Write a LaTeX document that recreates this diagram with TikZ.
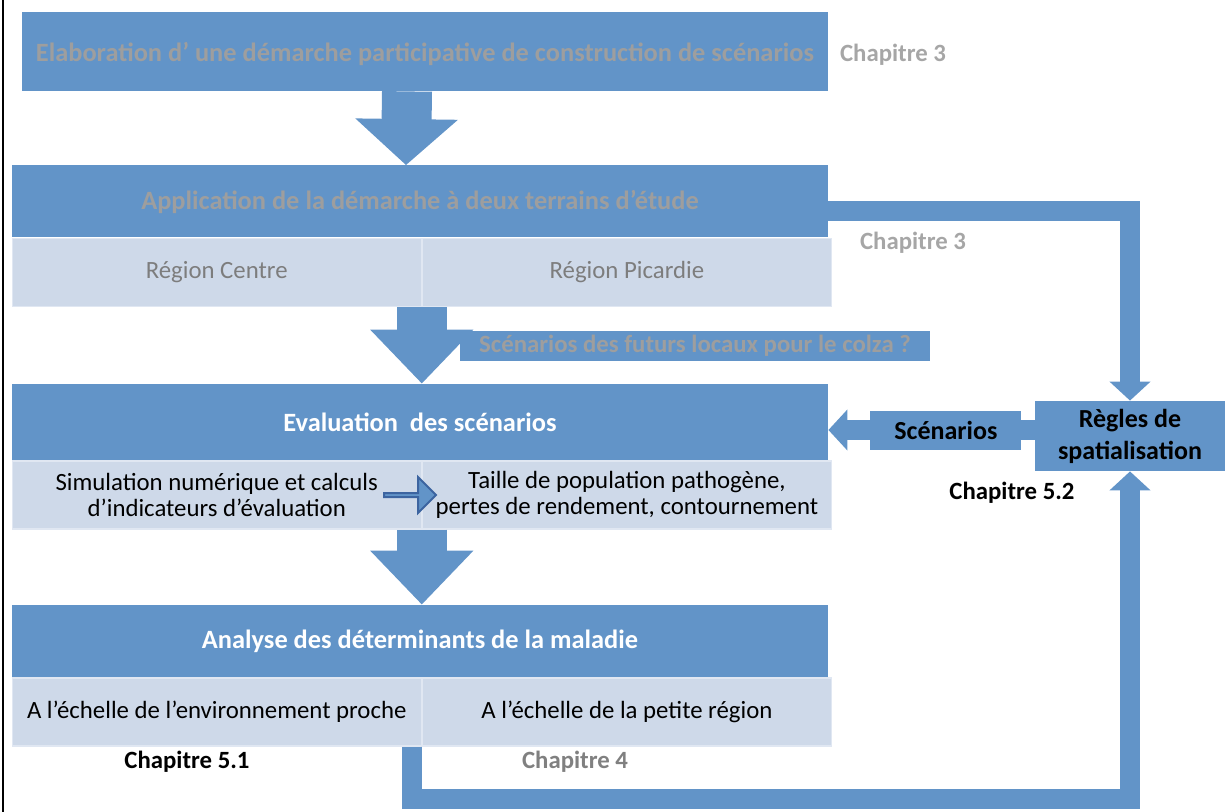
\documentclass[tikz,border=0pt,11pt]{standalone}
\usepackage{fontspec}
\setmainfont{Carlito}
\usepackage{xcolor}
\usepackage{tikz}
\usetikzlibrary{shapes.arrows, arrows.meta, positioning}
\definecolor{boxblue}{RGB}{98,148,200}
\definecolor{cellblue}{RGB}{206,217,233}
\definecolor{cellline}{RGB}{224,231,242}
\definecolor{titlegray}{RGB}{158,158,158}
\definecolor{regiongray}{RGB}{125,125,125}
\definecolor{chapgray}{RGB}{166,166,166}
\definecolor{chapdark}{RGB}{128,128,128}
\definecolor{arrowline}{RGB}{60,100,160}
\tikzset{
  titlebox/.style={rectangle, fill=boxblue, minimum width=408pt, minimum height=36pt, inner sep=0pt, text centered, font=\fontsize{13.2}{15}\selectfont\bfseries},
  cell/.style={rectangle, fill=cellblue, draw=cellline, line width=0.6pt, minimum width=204.5pt, minimum height=34pt, inner sep=0pt, align=center},
  question/.style={rectangle, fill=boxblue, minimum width=235pt, minimum height=15pt, inner sep=0pt, text=titlegray, font=\bfseries},
  rulebox/.style={rectangle, fill=boxblue, minimum width=95pt, minimum height=35pt, inner sep=0pt, align=center, font=\fontsize{13}{16}\selectfont\bfseries},
  scenbox/.style={rectangle, fill=boxblue, minimum width=75.5pt, minimum height=19.5pt, inner sep=0pt, font=\fontsize{13}{15}\selectfont\bfseries},
  chap/.style={font=\bfseries},
  bigarrow/.style={draw=boxblue, line width=25pt, -{Triangle[width=50pt,length=#1]}},
  bigarrow/.default=27pt,
  link/.style={draw=boxblue, line width=10pt, -{Triangle[width=20pt,length=9.5pt]}},
  smallarrow/.style={single arrow, draw=arrowline, fill=boxblue, line width=1pt, minimum height=26pt, minimum width=18pt, single arrow head extend=4pt, inner sep=0pt}
}
\begin{document}
\fontsize{12.4}{13.2}\selectfont
\begin{tikzpicture}[x=0.5pt, y=-0.5pt]
\useasboundingbox (0,0) rectangle (1225,812);
\draw[line width=1.2pt] (3,0) -- (3,812);

% Steps
\node[titlebox, text=titlegray, minimum width=403pt, minimum height=39.5pt, text height=13.5pt, text depth=3pt] (elab) at (425,51.5) {Elaboration d’ une démarche participative de construction de scénarios};
\node[titlebox, text=titlegray] (appl) at (420,201.5) {Application de la démarche à deux terrains d’étude};
\node[cell, anchor=north west, text=regiongray] (centre) at (appl.south west) {Région Centre};
\node[cell, right=0pt of centre, text=regiongray] (picardie) {Région Picardie};

\node[titlebox, text=white, minimum height=38pt] (eval) at (420,422) {Evaluation\ \ des scénarios};
\node[cell, anchor=north west] (simul) at (eval.south west) {Simulation numérique et calculs\\d’indicateurs d’évaluation};
\node[cell, right=0pt of simul] (taille) {Taille de population pathogène,\\pertes de rendement, contournement};
\node[smallarrow] (fleche) at (409,495) {};

\node[titlebox, text=white] (analyse) at (420,641) {Analyse des déterminants de la maladie};
\node[cell, anchor=north west] (proche) at (analyse.south west) {A l’échelle de l’environnement proche};
\node[cell, right=0pt of proche] (petite) {A l’échelle de la petite région};

\node[question] (colza) at (695,346) {Scénarios des futurs locaux pour le colza ?};
\node[rulebox] (regles) at (1130,436) {Règles de\\spatialisation};

% Chapters
\node[chap, text=chapgray] (ch3a) at (893,55) {Chapitre 3};
\node[chap, text=chapgray] (ch3b) at (913,243) {Chapitre 3};
\node[chap] (ch52) at (1012,493) {Chapitre 5.2};
\node[chap] (ch51) at (187,762) {Chapitre 5.1};
\node[chap, text=chapdark] (ch4) at (575,762) {Chapitre 4};

% Arrows
\draw[bigarrow=23pt] ([xshift=-9pt]elab.south) -- ([xshift=-7pt]appl.north);
\draw[bigarrow] (centre.south east) -- (centre.south east |- eval.north);
\draw[bigarrow] (simul.south east) -- (simul.south east |- analyse.north);

\draw[link] ([yshift=-4.75pt]appl.east) -| (regles.north);
\draw[link] ([xshift=-5pt]proche.south east) -- ++(0,52.5) -| (regles.south);
\draw[link] ([yshift=3pt]regles.west) -- node[scenbox, pos=0.43] (scen) {Scénarios} ([yshift=3pt]regles.west -| eval.east);
\end{tikzpicture}
\end{document}
